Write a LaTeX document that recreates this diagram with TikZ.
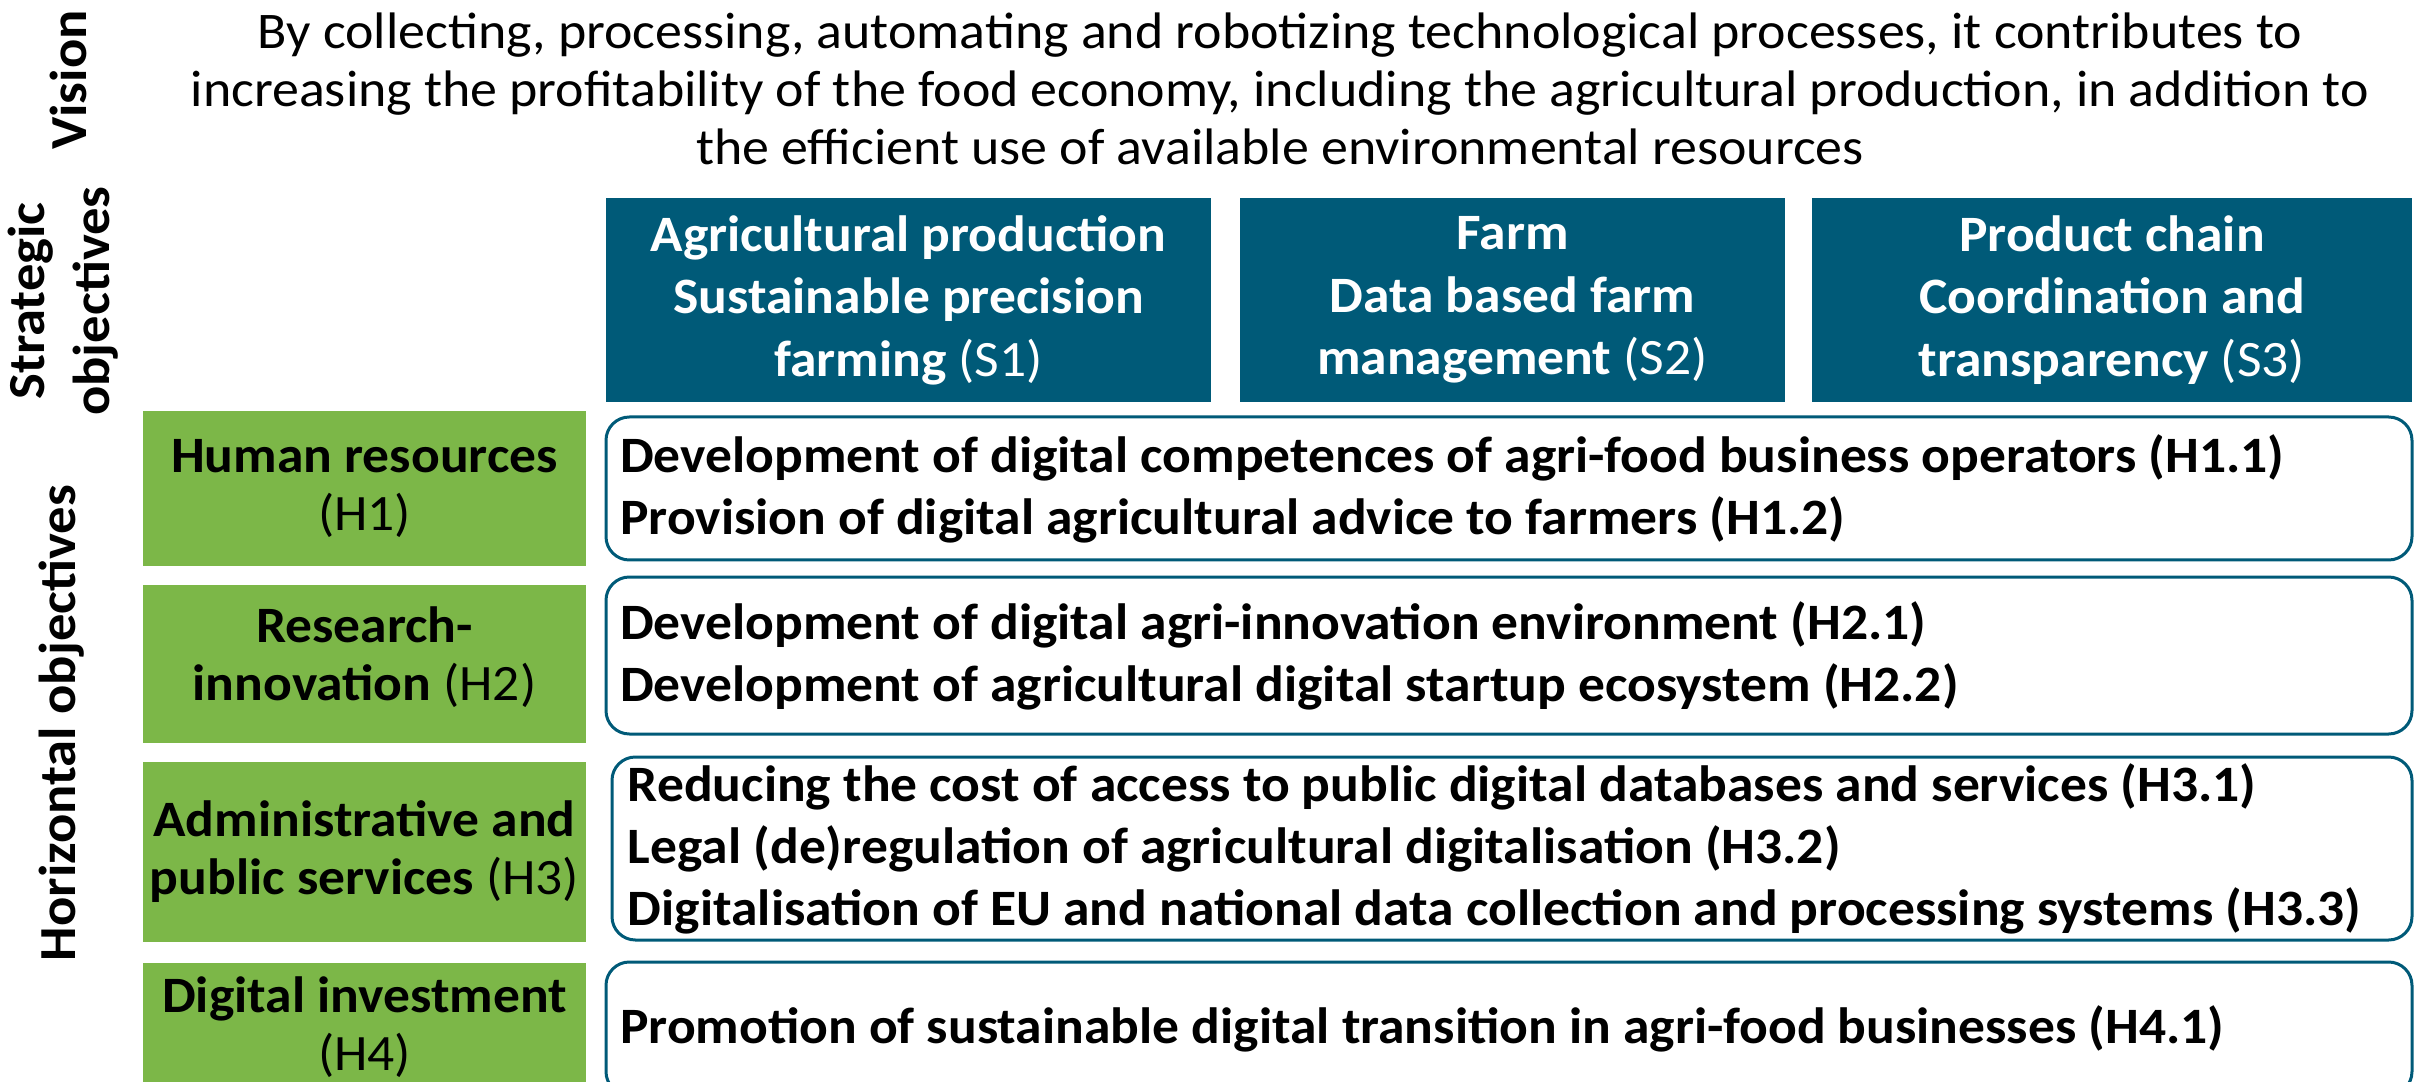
\documentclass[tikz,border=0pt]{standalone}
\usepackage{fontspec}
\setmainfont{Carlito}[FakeStretch=1.05]
\usetikzlibrary{fit}

\definecolor{stratblue}{RGB}{0,90,120}
\definecolor{horgreen}{RGB}{124,183,72}

\tikzset{
  rowlabel/.style={rotate=90, align=center, inner sep=0pt, font=\fontsize{15.6}{19.5}\selectfont\bfseries},
  stratbox/.style={fill=stratblue, inner sep=0pt},
  strattext/.style={text=white, inner sep=0pt, align=center, font=\fontsize{15.3}{18.75}\selectfont\bfseries},
  horbox/.style={fill=horgreen, inner sep=0pt},
  hortext/.style={inner sep=0pt, align=center, font=\fontsize{15.3}{17.4}\selectfont\bfseries},
  goalbox/.style={draw=stratblue, line width=0.9pt, rounded corners=7pt, inner sep=0pt},
  goaltext/.style={anchor=west, align=left, inner sep=0pt, font=\fontsize{15.3}{18.6}\selectfont\bfseries},
}

\begin{document}
\begin{tikzpicture}[x=0.3pt, y=-0.3pt]
  \useasboundingbox (0,0) rectangle (2420,1082);
  % side labels
  \node[rowlabel] (vislab) at (68,80) {Vision};
  \node[rowlabel] (stratlab) at (63,301) {Strategic\\objectives};
  \node[rowlabel] (horlab) at (62,723) {Horizontal objectives};
  % vision
  \node[align=center, inner sep=0pt, font=\fontsize{15.4}{17.4}\selectfont] (vision) at (1280,89)
    {By collecting, processing, automating and robotizing technological processes, it contributes to\\
     increasing the profitability of the food economy, including the agricultural production, in addition to\\
     the efficient use of available environmental resources};
  % strategic objectives
  \node[stratbox, fit={(606,198) (1211,402)}] (s1) {};
  \node[stratbox, fit={(1240,198) (1785,402)}] (s2) {};
  \node[stratbox, fit={(1812,198) (2412,402)}] (s3) {};
  \node[strattext] (s1t) at (s1.center) {Agricultural production\\Sustainable precision\\farming {\mdseries(S1)}};
  \node[strattext] (s2t) at (s2.center) {Farm\\Data based farm\\management {\mdseries(S2)}};
  \node[strattext] (s3t) at (s3.center) {Product chain\\Coordination and\\transparency {\mdseries(S3)}};
  % horizontal objectives
  \node[horbox, fit={(143,411) (586,566)}] (h1) {};
  \node[horbox, fit={(143,585) (586,743)}] (h2) {};
  \node[horbox, fit={(143,762) (586,942)}] (h3) {};
  \node[horbox, fit={(143,963) (586,1092)}] (h4) {};
  \node[hortext] (h1t) at (h1.center) {Human resources\\{\mdseries(H1)}};
  \node[hortext] (h2t) at ([yshift=2pt]h2.center) {Research-\\innovation {\mdseries(H2)}};
  \node[hortext] (h3t) at (h3.center) {Administrative and\\public services {\mdseries(H3)}};
  \node[hortext] (h4t) at (h4.center) {Digital investment\\{\mdseries(H4)}};
  % measures
  \node[goalbox, fit={(606,417) (2412,560)}] (g1) {};
  \node[goaltext] (g1t) at ([xshift=4.5pt]g1.west)
    {Development of digital competences of agri-food business operators (H1.1)\\
     Provision of digital agricultural advice to farmers (H1.2)};
  \node[goalbox, fit={(606,577) (2412,734)}] (g2) {};
  \node[goaltext] (g2t) at ([xshift=4.5pt]g2.west)
    {Development of digital agri-innovation environment (H2.1)\\
     Development of agricultural digital startup ecosystem (H2.2)};
  \node[goalbox, fit={(612,757) (2412,940)}] (g3) {};
  \node[goaltext] (g3t) at ([xshift=5pt]g3.west)
    {Reducing the cost of access to public digital databases and services (H3.1)\\
     Legal (de)regulation of agricultural digitalisation (H3.2)\\
     Digitalisation of EU and national data collection and processing systems (H3.3)};
  \node[goalbox, fit={(606,962) (2412,1095)}] (g4) {};
  \node[goaltext] (g4t) at ([xshift=4.5pt]g4.west)
    {Promotion of sustainable digital transition in agri-food businesses (H4.1)};
\end{tikzpicture}
\end{document}
